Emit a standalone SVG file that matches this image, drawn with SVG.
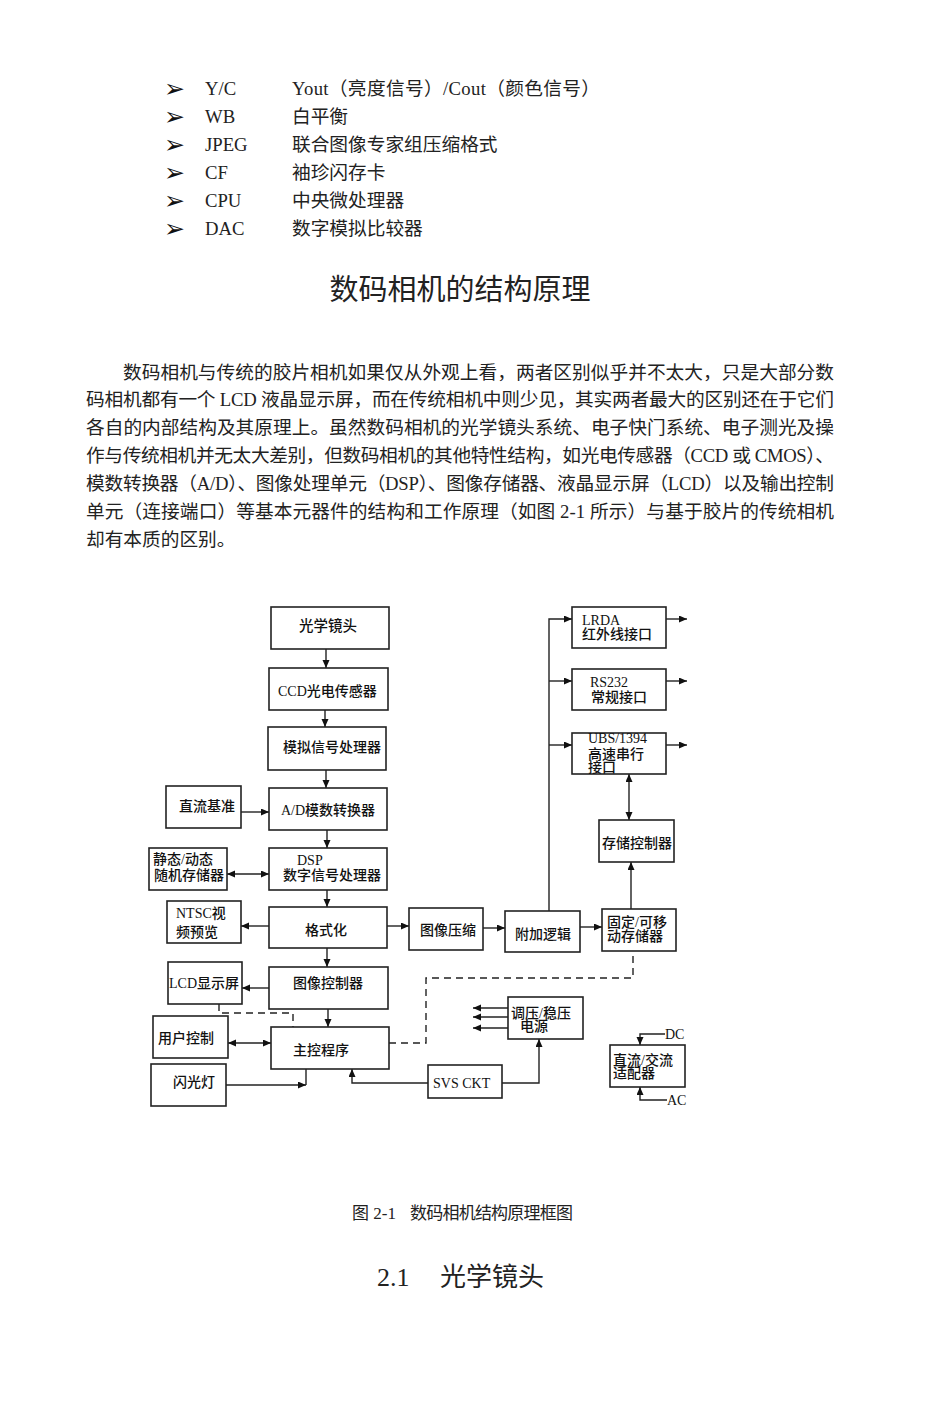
<svg xmlns="http://www.w3.org/2000/svg" width="950" height="1414" viewBox="0 0 950 1414">
<style>
.body{font-family:'Liberation Serif','Noto Sans CJK SC',serif;font-size:18.7px;fill:#222}
.bul{font-family:'DejaVu Sans',sans-serif;font-size:25px;fill:#111}
.title{font-family:'Liberation Serif','Noto Sans CJK SC',serif;font-size:29px;fill:#222}
.lbl{font-family:'Liberation Serif','Noto Sans CJK SC',sans-serif;font-size:14px;font-weight:500;fill:#111}
.box{fill:#fff;stroke:#222;stroke-width:1.6}
.ln{fill:none;stroke:#222;stroke-width:1.4}
.dash{fill:none;stroke:#222;stroke-width:1.4;stroke-dasharray:7,5}
</style>
<defs>
<marker id="ah" markerUnits="userSpaceOnUse" markerWidth="9" markerHeight="8" refX="8" refY="3.5" orient="auto-start-reverse">
<path d="M0,0 L8,3.5 L0,7 z" fill="#111"/>
</marker>
</defs>
<rect width="950" height="1414" fill="#fff"/>

<g id="bullets">
<text class="bul" x="164" y="97">➢</text>
<text class="bul" x="164" y="125">➢</text>
<text class="bul" x="164" y="153">➢</text>
<text class="bul" x="164" y="181">➢</text>
<text class="bul" x="164" y="209">➢</text>
<text class="bul" x="164" y="237">➢</text>
<text class="body" x="205" y="95">Y/C</text>
<text class="body" x="205" y="123">WB</text>
<text class="body" x="205" y="151">JPEG</text>
<text class="body" x="205" y="179">CF</text>
<text class="body" x="205" y="207">CPU</text>
<text class="body" x="205" y="235">DAC</text>
<text class="body" x="292" y="95" textLength="308" lengthAdjust="spacing">Yout（亮度信号）/Cout（颜色信号）</text>
<text class="body" x="292" y="123">白平衡</text>
<text class="body" x="292" y="151">联合图像专家组压缩格式</text>
<text class="body" x="292" y="179">袖珍闪存卡</text>
<text class="body" x="292" y="207">中央微处理器</text>
<text class="body" x="292" y="235">数字模拟比较器</text>
</g>

<text class="title" x="460" y="300" text-anchor="middle">数码相机的结构原理</text>

<g id="paragraph">
<text class="body" x="123" y="379" textLength="711" lengthAdjust="spacing">数码相机与传统的胶片相机如果仅从外观上看，两者区别似乎并不太大，只是大部分数</text>
<text class="body" x="86" y="406" textLength="748" lengthAdjust="spacing">码相机都有一个 LCD 液晶显示屏，而在传统相机中则少见，其实两者最大的区别还在于它们</text>
<text class="body" x="86" y="434" textLength="748" lengthAdjust="spacing">各自的内部结构及其原理上。虽然数码相机的光学镜头系统、电子快门系统、电子测光及操</text>
<text class="body" x="86" y="462" textLength="748" lengthAdjust="spacing">作与传统相机并无太大差别，但数码相机的其他特性结构，如光电传感器（CCD 或 CMOS）、</text>
<text class="body" x="86" y="490" textLength="748" lengthAdjust="spacing">模数转换器（A/D）、图像处理单元（DSP）、图像存储器、液晶显示屏（LCD）以及输出控制</text>
<text class="body" x="86" y="518" textLength="748" lengthAdjust="spacing">单元（连接端口）等基本元器件的结构和工作原理（如图 2-1 所示）与基于胶片的传统相机</text>
<text class="body" x="86" y="546">却有本质的区别。</text>
</g>

<g id="connectors">
<line class="ln" x1="326" y1="649" x2="326" y2="668" marker-end="url(#ah)"/>
<line class="ln" x1="325" y1="710" x2="325" y2="727" marker-end="url(#ah)"/>
<line class="ln" x1="326" y1="770" x2="326" y2="788" marker-end="url(#ah)"/>
<line class="ln" x1="241" y1="812" x2="269" y2="812" marker-end="url(#ah)"/>
<line class="ln" x1="327" y1="830" x2="327" y2="848" marker-end="url(#ah)"/>
<line class="ln" x1="227" y1="874" x2="269" y2="874" marker-start="url(#ah)" marker-end="url(#ah)"/>
<line class="ln" x1="327" y1="890" x2="327" y2="907" marker-end="url(#ah)"/>
<line class="ln" x1="269" y1="926" x2="241" y2="926" marker-end="url(#ah)"/>
<line class="ln" x1="387" y1="926" x2="409" y2="926" marker-end="url(#ah)"/>
<line class="ln" x1="327" y1="948" x2="327" y2="967" marker-end="url(#ah)"/>
<line class="ln" x1="269" y1="988" x2="242" y2="988" marker-end="url(#ah)"/>
<line class="ln" x1="328" y1="1009" x2="328" y2="1027" marker-end="url(#ah)"/>
<line class="ln" x1="228" y1="1043" x2="271" y2="1043" marker-start="url(#ah)" marker-end="url(#ah)"/>
<line class="ln" x1="226" y1="1085" x2="306" y2="1085" marker-end="url(#ah)"/>
<line class="ln" x1="306" y1="1069" x2="306" y2="1085"/>
<path class="ln" d="M428,1083 H352 V1069" marker-end="url(#ah)"/>
<path class="ln" d="M502,1083 H539 V1039" marker-end="url(#ah)"/>
<line class="ln" x1="508" y1="1008" x2="473" y2="1008" marker-end="url(#ah)"/>
<line class="ln" x1="508" y1="1017" x2="473" y2="1017" marker-end="url(#ah)"/>
<line class="ln" x1="508" y1="1028" x2="473" y2="1028" marker-end="url(#ah)"/>
<line class="ln" x1="483" y1="928" x2="505" y2="928" marker-end="url(#ah)"/>
<line class="ln" x1="580" y1="927" x2="602" y2="927" marker-end="url(#ah)"/>
<path class="ln" d="M549,911 V619 H572" marker-end="url(#ah)"/>
<line class="ln" x1="549" y1="681" x2="572" y2="681" marker-end="url(#ah)"/>
<line class="ln" x1="549" y1="745" x2="572" y2="745" marker-end="url(#ah)"/>
<line class="ln" x1="666" y1="619" x2="687" y2="619" marker-end="url(#ah)"/>
<line class="ln" x1="666" y1="681" x2="687" y2="681" marker-end="url(#ah)"/>
<line class="ln" x1="666" y1="745" x2="687" y2="745" marker-end="url(#ah)"/>
<line class="ln" x1="629" y1="774" x2="629" y2="820" marker-start="url(#ah)" marker-end="url(#ah)"/>
<line class="ln" x1="631" y1="909" x2="631" y2="862" marker-end="url(#ah)"/>
<path class="dash" d="M219,1004 V1013 H293 V1027"/>
<path class="dash" d="M389,1043 H426 V978 H633 V951"/>
<path class="ln" d="M665,1034 H640 V1045" marker-end="url(#ah)"/>
<path class="ln" d="M667,1100 H640 V1087" marker-end="url(#ah)"/>
</g>

<g id="n-lens"><rect class="box" x="271" y="607" width="118" height="42"/><text class="lbl" x="299" y="631" style="font-size:14.5px">光学镜头</text></g>
<g id="n-ccd"><rect class="box" x="269" y="668" width="119" height="42"/><text class="lbl" x="278" y="696">CCD光电传感器</text></g>
<g id="n-analog"><rect class="box" x="268" y="727" width="118" height="43"/><text class="lbl" x="283" y="752">模拟信号处理器</text></g>
<g id="n-dcref"><rect class="box" x="166" y="786" width="75" height="42"/><text class="lbl" x="179" y="811">直流基准</text></g>
<g id="n-ad"><rect class="box" x="269" y="788" width="118" height="42"/><text class="lbl" x="281" y="815">A/D模数转换器</text></g>
<g id="n-ram"><rect class="box" x="149" y="848" width="78" height="42"/><text class="lbl" x="153" y="864">静态/动态</text><text class="lbl" x="154" y="880">随机存储器</text></g>
<g id="n-dsp"><rect class="box" x="269" y="848" width="118" height="42"/><text class="lbl" x="297" y="865">DSP</text><text class="lbl" x="283" y="880">数字信号处理器</text></g>
<g id="n-ntsc"><rect class="box" x="167" y="901" width="74" height="42"/><text class="lbl" x="176" y="918">NTSC视</text><text class="lbl" x="176" y="937">频预览</text></g>
<g id="n-format"><rect class="box" x="269" y="907" width="118" height="41"/><text class="lbl" x="305" y="935">格式化</text></g>
<g id="n-compress"><rect class="box" x="409" y="908" width="74" height="42"/><text class="lbl" x="420" y="935">图像压缩</text></g>
<g id="n-logic"><rect class="box" x="505" y="911" width="75" height="41"/><text class="lbl" x="515" y="939">附加逻辑</text></g>
<g id="n-storage"><rect class="box" x="602" y="909" width="74" height="42"/><text class="lbl" x="607" y="927">固定/可移</text><text class="lbl" x="607" y="941">动存储器</text></g>
<g id="n-lcd"><rect class="box" x="168" y="962" width="74" height="42"/><text class="lbl" x="169" y="988">LCD显示屏</text></g>
<g id="n-imgctl"><rect class="box" x="269" y="967" width="119" height="42"/><text class="lbl" x="293" y="988">图像控制器</text></g>
<g id="n-user"><rect class="box" x="153" y="1016" width="75" height="42"/><text class="lbl" x="158" y="1043">用户控制</text></g>
<g id="n-main"><rect class="box" x="271" y="1027" width="118" height="42"/><text class="lbl" x="293" y="1055">主控程序</text></g>
<g id="n-flash"><rect class="box" x="151" y="1064" width="75" height="42"/><text class="lbl" x="173" y="1087">闪光灯</text></g>
<g id="n-power"><rect class="box" x="508" y="997" width="75" height="42"/><text class="lbl" x="511" y="1018">调压/稳压</text><text class="lbl" x="520" y="1031">电源</text></g>
<g id="n-svs"><rect class="box" x="428" y="1065" width="74" height="33"/><text class="lbl" x="433" y="1088">SVS CKT</text></g>
<g id="n-adapter"><rect class="box" x="610" y="1045" width="75" height="42"/><text class="lbl" x="613" y="1065">直流/交流</text><text class="lbl" x="613" y="1078">适配器</text></g>
<text class="lbl" x="665" y="1039">DC</text>
<text class="lbl" x="667" y="1105">AC</text>
<g id="n-lrda"><rect class="box" x="572" y="607" width="94" height="41"/><text class="lbl" x="582" y="625">LRDA</text><text class="lbl" x="582" y="639">红外线接口</text></g>
<g id="n-rs232"><rect class="box" x="572" y="669" width="94" height="41"/><text class="lbl" x="590" y="687">RS232</text><text class="lbl" x="591" y="702">常规接口</text></g>
<g id="n-ubs"><rect class="box" x="572" y="733" width="94" height="41"/><text class="lbl" x="588" y="743">UBS/1394</text><text class="lbl" x="588" y="759">高速串行</text><text class="lbl" x="588" y="772">接口</text></g>
<g id="n-memctl"><rect class="box" x="599" y="820" width="75" height="42"/><text class="lbl" x="602" y="848">存储控制器</text></g>

<text class="body" x="352" y="1219" style="font-size:17px">图 2-1</text>
<text class="body" x="410" y="1219" style="font-size:17px" textLength="163" lengthAdjust="spacing">数码相机结构原理框图</text>
<text class="body" x="377" y="1286" style="font-size:26px">2.1</text>
<text class="body" x="440" y="1286" style="font-size:26px">光学镜头</text>
</svg>
